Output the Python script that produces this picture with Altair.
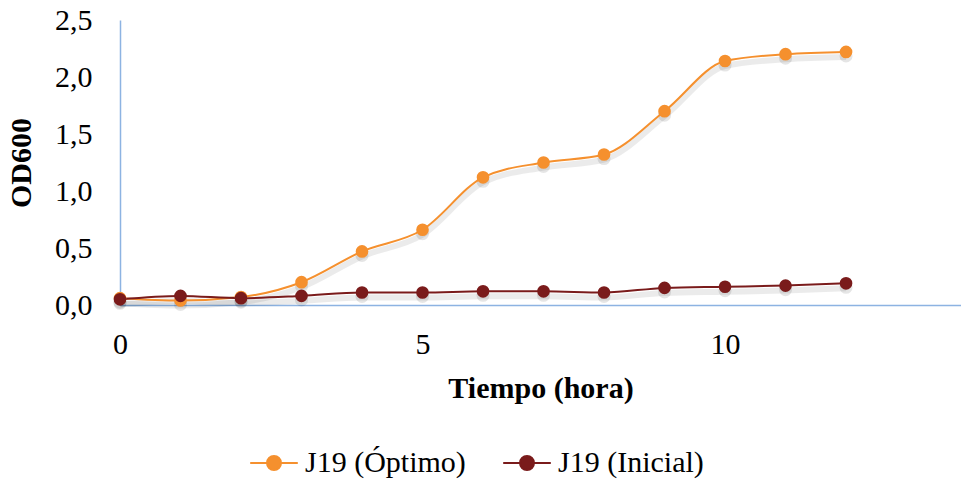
import altair as alt
import pandas as pd

hours = [0, 1, 2, 3, 4, 5, 6, 7, 8, 9, 10, 11, 12]
optimo = [0.06, 0.04, 0.07, 0.20, 0.47, 0.66, 1.12, 1.25, 1.32, 1.70, 2.14, 2.20, 2.22]
inicial = [0.05, 0.08, 0.06, 0.08, 0.11, 0.11, 0.12, 0.12, 0.11, 0.15, 0.16, 0.17, 0.19]
series_names = ["J19 (Óptimo)", "J19 (Inicial)"]
series_colors = ["#F5902E", "#7A1B1B"]
y_ticks = [0, 0.5, 1.0, 1.5, 2.0, 2.5]
x_ticks = [0, 5, 10]

rows = []
for h, v in zip(hours, optimo):
    rows.append({"hora": h, "od": v, "serie": series_names[0]})
for h, v in zip(hours, inicial):
    rows.append({"hora": h, "od": v, "serie": series_names[1]})
df = pd.DataFrame(rows)

FONT = "Liberation Serif"
FS = 30

x = alt.X("hora:Q", scale=alt.Scale(domain=[0, 13.9], nice=False, zero=False),
          axis=alt.Axis(values=x_ticks, title="Tiempo (hora)", grid=False, ticks=False,
                        labelFlush=False, labelPadding=24, titlePadding=14))
y = alt.Y("od:Q", scale=alt.Scale(domain=[0, 2.5], nice=False),
          axis=alt.Axis(values=y_ticks, title="OD600", grid=False, ticks=False,
                        labelFlush=False,
                        labelExpr="replace(format(datum.value, '.1f'), '.', ',')",
                        labelPadding=28, titlePadding=18))

legend = alt.Legend(
    title=None, orient="none", direction="horizontal", legendX=139, legendY=428,
    symbolType="M-1.7,0H-0.5M0.5,0H1.7M-0.5,0A0.5,0.5 0 1,0 0.5,0A0.5,0.5 0 1,0 -0.5,0Z",
    symbolSize=784, symbolStrokeWidth=2, labelOffset=16, columnPadding=33,
    labelFont=FONT, labelFontSize=FS, labelColor="#000000", labelLimit=400,
    symbolOpacity=1,
)
color = alt.Color("serie:N", scale=alt.Scale(domain=series_names, range=series_colors),
                  legend=legend)

base = alt.Chart(df)

shadow_line = base.mark_line(interpolate="monotone", strokeWidth=6, yOffset=5,
                             opacity=0.08, color="black").encode(x=x, y=y, detail="serie:N")
shadow_pts = base.mark_circle(size=170, yOffset=4, opacity=0.10, color="black").encode(x=x, y=y)
line = base.mark_line(interpolate="monotone", strokeWidth=2).encode(
    x=x, y=y, color=color, order="hora:Q")
pts = base.mark_circle(size=160, opacity=1).encode(x=x, y=y, color=color)

chart = alt.layer(shadow_line, shadow_pts, line, pts).properties(
    width=841, height=285,
    autosize=alt.AutoSizeParams(type="none"),
    padding={"left": 120, "top": 20, "right": 0, "bottom": 181},
).configure_view(stroke=None).configure_axis(
    labelFont=FONT, labelFontSize=FS, labelColor="#000000",
    titleFont=FONT, titleFontSize=FS, titleFontWeight="bold", titleColor="#000000",
    domainColor="#8DB3E2", domainWidth=1.5,
)

chart.save("out.html", embed_options={"renderer": "svg", "actions": False})
